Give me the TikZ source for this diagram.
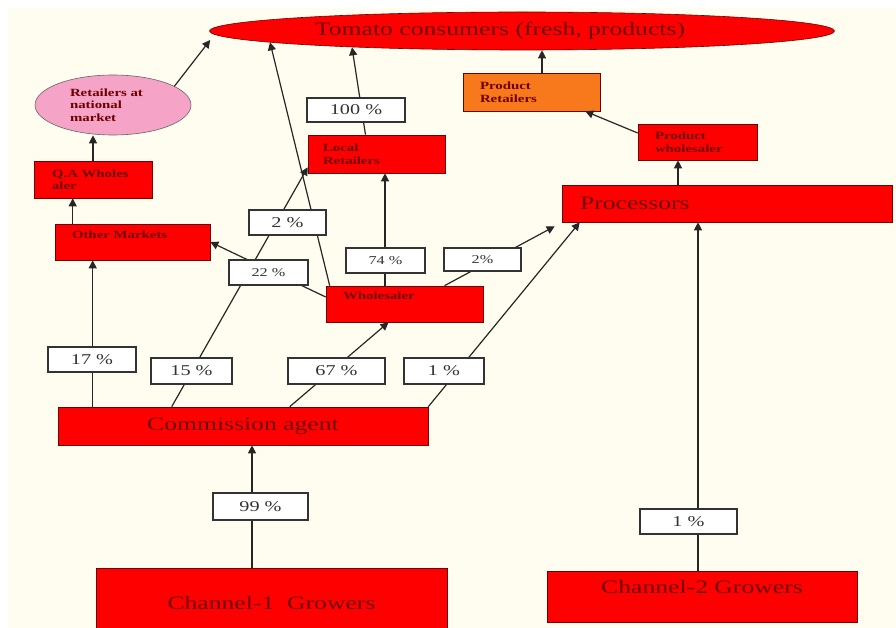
\documentclass[tikz,border=0pt]{standalone}
\usepackage{fontspec}
\setmainfont{Liberation Serif}[FakeStretch=1.35]
\usetikzlibrary{shapes.geometric,arrows.meta}
\definecolor{cream}{HTML}{FFFDEF}
\definecolor{boxred}{HTML}{FF0000}
\definecolor{darkred}{HTML}{6E0000}
\definecolor{pinkish}{HTML}{F5A3C7}
\definecolor{orangebox}{HTML}{F8791B}
\tikzset{
  ent/.style={draw=darkred, line width=0.6pt, fill=boxred, text=darkred, inner sep=0pt,
    font=\fontsize{11}{12.5}\selectfont\bfseries},
  bigtxt/.style={font=\fontsize{19}{22}\selectfont},
  lbl/.style={draw=black!80, line width=1.2pt, fill=white, text=black!80, inner sep=0pt,
    font=\fontsize{15}{18}\selectfont},
  smalllbl/.style={lbl, font=\fontsize{12}{14}\selectfont},
  arr/.style={-{Triangle[length=8pt,width=8pt]}, line width=1.2pt, black!85},
}
\begin{document}
\begin{tikzpicture}[x=1pt,y=-1pt]
			\clip (0,0) rectangle (896,628);
			\fill[white] (0,0) rectangle (896,628);
			\fill[cream] (8,8) rectangle (896,628);
			\node[ent,ellipse,bigtxt,minimum width=625pt,minimum height=38pt] (cons) at (522,31) {Tomato consumers (fresh, products)\hspace*{44pt}};
			\node[ent,ellipse,fill=pinkish,draw=black!60,minimum width=156pt,minimum height=60pt,text width=86pt,align=left] (natl) at (113,105) {Retailers at\\national\\market};
			\node[ent,minimum width=118pt,minimum height=37pt,text width=82pt,align=left] (qaw) at (93,179.5) {Q.A Wholes\\aler};
			\node[ent,minimum width=155pt,minimum height=36pt,text width=121pt,align=left,text depth=14pt] (othm) at (132.5,242) {Other Markets};
			\node[ent,minimum width=137pt,minimum height=38pt,text width=107pt,align=left] (locr) at (376.5,154) {Local\\Retailers};
			\node[ent,fill=orangebox,minimum width=137pt,minimum height=38pt,text width=103pt,align=left] (prdr) at (531.5,92) {Product\\Retailers};
			\node[ent,minimum width=119pt,minimum height=36pt,text width=85pt,align=left] (prdw) at (697.5,142) {Product\\wholesaler};
			\node[ent,bigtxt,minimum width=330pt,minimum height=37pt,text width=294pt,align=left] (proc) at (727,203.5) {Processors};
			\node[ent,minimum width=157pt,minimum height=36pt,text width=123pt,align=left,text depth=16pt] (whol) at (404.5,304) {Wholesaler};
			\node[ent,bigtxt,minimum width=370pt,minimum height=38pt] (comm) at (243,426) {Commission agent};
			\node[ent,bigtxt,minimum width=351pt,minimum height=70pt] (ch1) at (271.5,603) {Channel-1~ Growers};
			\node[ent,bigtxt,minimum width=310pt,minimum height=51pt,text depth=19pt] (ch2) at (702,596.5) {Channel-2 Growers};
			\coordinate (ca1) at ([xshift=35pt]comm.north west);
			\coordinate (ca2) at ([xshift=114pt]comm.north west);
			\coordinate (ca3) at ([xshift=232pt]comm.north west);
			\coordinate (g1) at ([xshift=-19.5pt]ch1.north);
			\coordinate (g2) at ([xshift=-4pt]ch2.north);
			\coordinate (w1) at ([xshift=-19.5pt]whol.north);
			\coordinate (p1) at ([xshift=-49pt]proc.north);
			\coordinate (r1) at ([xshift=10.5pt]prdr.north);
			\coordinate (om1) at ([xshift=18pt]othm.north west);
			\draw[arr] (natl.17) -- ([xshift=1pt,yshift=-9pt]cons.west);
			\draw[arr] (qaw.north) -- (qaw.north |- natl.south);
			\draw[arr] (om1) -- (om1 |- qaw.south);
			\draw[arr] (ca1) -- (ca1 |- othm.south);
			\draw[arr] (ca2) -- ([yshift=6pt]locr.south west);
			\draw[arr] (ca3) -- ([xshift=-16pt]whol.south);
			\draw[arr] (comm.north east) -- ([xshift=18pt]proc.south west);
			\draw[arr] (g1) -- (g1 |- comm.south);
			\draw[arr] (g2) -- (g2 |- proc.south);
			\draw[arr] (w1) -- (w1 |- locr.south);
			\draw[arr] ([yshift=7pt]whol.west) -- (othm.east);
			\draw[arr] ([xshift=40pt]whol.north) -- ([xshift=-7pt,yshift=-4pt]proc.south west);
			\draw[arr] ([xshift=4pt]whol.north west) -- ([xshift=-252pt,yshift=8pt]cons.south);
			\draw[arr] ([xshift=-11pt]locr.north) -- ([xshift=-170pt,yshift=3pt]cons.south);
			\draw[arr] (p1) -- (p1 |- prdw.south);
			\draw[arr] ([yshift=9pt]prdw.west) -- ([xshift=-15pt]prdr.south east);
			\draw[arr] (r1) -- (r1 |- cons.south);
			\node[lbl,minimum width=88pt,minimum height=25pt] (l17) at (92,359.5) {17 \%};
			\node[lbl,minimum width=81pt,minimum height=26pt] (l15) at (191.5,371) {15 \%};
			\node[lbl,minimum width=97pt,minimum height=26pt] (l67) at (336.5,371) {67 \%};
			\node[lbl,minimum width=80pt,minimum height=26pt] (l1a) at (444,371) {1 \%};
			\node[lbl,minimum width=95pt,minimum height=27pt] (l99) at (260.5,506.5) {99 \%};
			\node[lbl,minimum width=97pt,minimum height=25pt] (l1b) at (688.5,521.5) {1 \%};
			\node[lbl,minimum width=77pt,minimum height=25pt] (l2a) at (287.5,222.5) {2 \%};
			\node[smalllbl,minimum width=79pt,minimum height=25pt] (l22) at (268.5,272.5) {22 \%};
			\node[smalllbl,minimum width=79pt,minimum height=25pt] (l74) at (385.5,260.5) {74 \%};
			\node[smalllbl,minimum width=77pt,minimum height=23pt] (l2b) at (482.5,259.5) {2\%};
			\node[lbl,minimum width=98pt,minimum height=24pt] (l100) at (356,110) {100 \%};
\end{tikzpicture}
\end{document}
